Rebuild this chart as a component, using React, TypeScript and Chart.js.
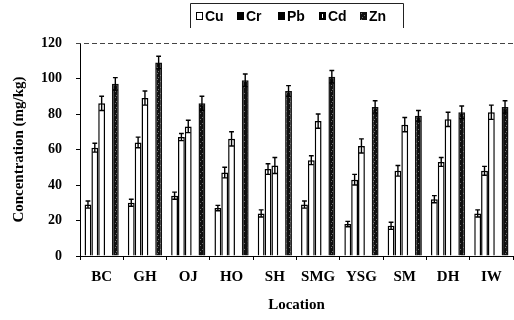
import React, { useEffect, useRef } from "react";
import { Chart, registerables } from "chart.js";

Chart.register(...registerables);

const locations = ["BC", "GH", "OJ", "HO", "SH", "SMG", "YSG", "SM", "DH", "IW"];
const seriesNames = ["Cu", "Cr", "Pb", "Cd", "Zn"];
const cuValues = [29, 30, 34, 27, 24, 29, 18, 17, 32, 24];
const crValues = [61, 64, 67, 47, 49, 54, 43, 48, 53, 48];
const pbValues = [86, 89, 73, 66, 51, 76, 62, 74, 77, 81];
const cdValues = [0.4, 0.4, 0.4, 0.4, 0.4, 0.4, 0.4, 0.4, 0.4, 0.4];
const znValues = [97, 109, 86, 99, 93, 101, 84, 79, 81, 84];
const cuErrors = [2, 2, 2, 1.5, 2, 2, 1.5, 2, 2, 2];
const crErrors = [2.5, 3, 2, 3, 3, 2.5, 3, 3, 2.5, 2.5];
const pbErrors = [4, 4, 3.5, 4, 4.5, 4, 4, 4, 4, 4];
const cdErrors = [0, 0, 0, 0, 0, 0, 0, 0, 0, 0];
const znErrors = [3.5, 3.5, 4, 3.5, 3, 3.5, 3.5, 3, 3.5, 3.5];
const yTickValues = [0, 20, 40, 60, 80, 100, 120];

const FONT = "'Liberation Serif', 'Times New Roman', serif";
const LEGEND_FONT = "'Liberation Sans', Arial, sans-serif";

function makeSpeckle(): CanvasPattern | string {
  const c = document.createElement("canvas");
  c.width = 6;
  c.height = 6;
  const g = c.getContext("2d");
  if (!g) return "#111";
  g.fillStyle = "#101010";
  g.fillRect(0, 0, 6, 6);
  g.fillStyle = "#6e6e6e";
  g.fillRect(1, 1, 1, 1);
  g.fillRect(4, 3, 1, 1);
  g.fillRect(2, 5, 1, 1);
  const p = g.createPattern(c, "repeat");
  return p || "#111";
}

export default function App() {
  const ref = useRef<HTMLCanvasElement | null>(null);

  useEffect(() => {
    if (!ref.current) return;
    const speckle = makeSpeckle();
    const errorSets = [cuErrors, crErrors, pbErrors, cdErrors, znErrors];
    const valueSets = [cuValues, crValues, pbValues, cdValues, znValues];
    const fills: any[] = ["#ffffff", "#ffffff", "#ffffff", "#ffffff", speckle];
    const borders = ["#000", "#000", "#000", "#000", "#111"];

    const errorPlugin = {
      id: "errorBars",
      afterDatasetsDraw(chart: any) {
        const ctx = chart.ctx;
        const yScale = chart.scales.y;
        ctx.save();
        ctx.strokeStyle = "#000";
        ctx.lineWidth = 1.4;
        chart.data.datasets.forEach((ds: any, di: number) => {
          const errs = errorSets[di];
          const meta = chart.getDatasetMeta(di);
          meta.data.forEach((bar: any, i: number) => {
            const e = errs[i];
            if (!e) return;
            const v = ds.data[i];
            const { x, width } = bar.getProps(["x", "width"], true);
            const yt = yScale.getPixelForValue(v + e);
            const yb = yScale.getPixelForValue(v - e);
            const hw = width * 0.35;
            ctx.beginPath();
            ctx.moveTo(x, yt);
            ctx.lineTo(x, yb);
            ctx.moveTo(x - hw, yt);
            ctx.lineTo(x + hw, yt);
            ctx.moveTo(x - hw, yb);
            ctx.lineTo(x + hw, yb);
            ctx.stroke();
          });
        });
        ctx.restore();
      },
    };

    const decorPlugin = {
      id: "decor",
      afterDraw(chart: any) {
        const ctx = chart.ctx;
        const area = chart.chartArea;
        ctx.save();
        ctx.strokeStyle = "#444";
        ctx.lineWidth = 1;
        ctx.setLineDash([5, 3]);
        ctx.beginPath();
        ctx.moveTo(area.left - 4, Math.round(area.top) + 0.5);
        ctx.lineTo(area.right, Math.round(area.top) + 0.5);
        ctx.stroke();
        ctx.setLineDash([]);

        ctx.font = `bold 14px ${LEGEND_FONT}`;
        ctx.textBaseline = "middle";
        ctx.textAlign = "left";
        const y = 16;
        let x = 196;
        seriesNames.forEach((name, i) => {
          const bx = x;
          const by = y - 4;
          const bw = 7;
          const bh = 8;
          if (i === 0) {
            ctx.fillStyle = "#fff";
            ctx.fillRect(bx, by, bw, bh);
            ctx.strokeStyle = "#000";
            ctx.lineWidth = 1;
            ctx.strokeRect(bx + 0.5, by + 0.5, bw - 1, bh - 1);
          } else if (i === 4) {
            ctx.fillStyle = speckle as any;
            ctx.fillRect(bx, by, bw, bh);
          } else {
            ctx.fillStyle = "#000";
            ctx.fillRect(bx, by, bw, bh);
            if (i === 3) {
              ctx.fillStyle = "#fff";
              ctx.fillRect(bx + 3, by + 2, 1, bh - 4);
            }
          }
          ctx.fillStyle = "#000";
          ctx.fillText(name, bx + 9, y + 1);
          x += 41;
        });
        ctx.strokeStyle = "#222";
        ctx.lineWidth = 1;
        ctx.beginPath();
        ctx.moveTo(190.5, 28);
        ctx.lineTo(190.5, 3.5);
        ctx.lineTo(403.5, 3.5);
        ctx.lineTo(403.5, 28);
        ctx.stroke();
        ctx.restore();
      },
    };

    const chart = new Chart(ref.current, {
      type: "bar",
      data: {
        labels: locations,
        datasets: seriesNames.map((name, i) => ({
          label: name,
          data: valueSets[i],
          backgroundColor: fills[i],
          borderColor: borders[i],
          borderWidth: 1.5,
          borderSkipped: "bottom",
          barPercentage: 1,
          categoryPercentage: 0.79,
        })),
      },
      options: {
        responsive: false,
        animation: false,
        layout: { padding: { top: 43, right: 1, left: 0, bottom: 0 } },
        plugins: {
          legend: { display: false },
          tooltip: { enabled: false },
        },
        scales: {
          x: {
            afterFit: (s: any) => {
              s.height = 64;
            },
            grid: {
              drawOnChartArea: false,
              drawTicks: true,
              tickLength: 4,
              color: "#000",
              offset: true,
            },
            border: { color: "#000", width: 1 },
            ticks: {
              color: "#000",
              padding: 8,
              font: { family: FONT, size: 15, weight: "bold" },
            },
            title: {
              display: true,
              text: "Location",
              color: "#000",
              font: { family: FONT, size: 15, weight: "bold" },
              padding: { top: 4, bottom: 6 },
            },
          },
          y: {
            min: 0,
            max: 120,
            afterFit: (s: any) => {
              s.width = 80;
            },
            afterBuildTicks: (s: any) => {
              s.ticks = yTickValues.map((v) => ({ value: v }));
            },
            grid: {
              drawOnChartArea: false,
              drawTicks: true,
              tickLength: 4,
              color: "#000",
            },
            border: { color: "#000", width: 1 },
            ticks: {
              color: "#000",
              padding: 14,
              font: { family: FONT, size: 14, weight: "bold" },
            },
            title: {
              display: true,
              text: "Concentration (mg/kg)",
              color: "#000",
              font: { family: FONT, size: 15, weight: "bold" },
              padding: { top: 10, bottom: 0 },
            },
          },
        },
      },
      plugins: [errorPlugin, decorPlugin],
    });
    return () => chart.destroy();
  }, []);

  return (
    <div style={{ position: "absolute", left: 0, top: 0, width: 514, height: 320, background: "#fff" }}>
      <canvas ref={ref} width={514} height={320} style={{ display: "block" }} />
    </div>
  );
}
